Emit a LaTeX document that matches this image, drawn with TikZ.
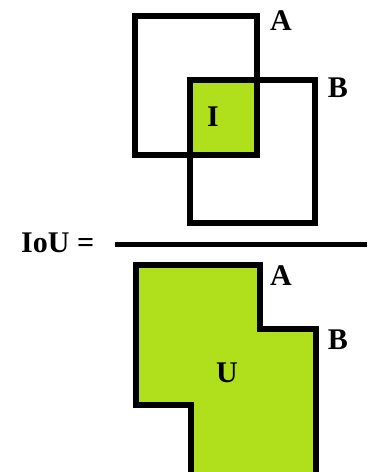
\documentclass[tikz,border=0pt]{standalone}
\usepackage{fontspec}
\setmainfont{Liberation Serif}
\definecolor{lime}{RGB}{176,224,28}
\begin{document}
\begin{tikzpicture}[x=1pt,y=-1pt,
  box/.style={draw=black,line width=6pt,line join=miter},
  lbl/.style={font=\fontsize{30}{33}\selectfont\bfseries,inner sep=0pt}]
\useasboundingbox (0,0) rectangle (373,472);
\clip (0,0) rectangle (373,472);
% top: intersection
\fill[lime] (190,80) rectangle (257,155);
\draw[box] (135,15.5) rectangle (257,155);
\draw[box] (190,80) rectangle (314.5,223);
\node[lbl] (la) at (281,21) {A};
\node[lbl] (lb) at (338,88) {B};
\node[lbl] (li) at (213,117) {I};
% fraction
\node[lbl,anchor=west] (iou) at (21,243) {IoU =};
\draw[line width=5pt] (115,244) -- (367,244);
% bottom: union
\draw[box,fill=lime] (135.5,264.5) -- (259.7,264.5) -- (259.7,329) -- (316.3,329)
  -- (316.3,478) -- (191,478) -- (191,404.5) -- (135.5,404.5) -- cycle;
\node[lbl] (ua) at (281,276) {A};
\node[lbl] (ub) at (338,340) {B};
\node[lbl] (lu) at (227,373) {U};
\end{tikzpicture}
\end{document}
